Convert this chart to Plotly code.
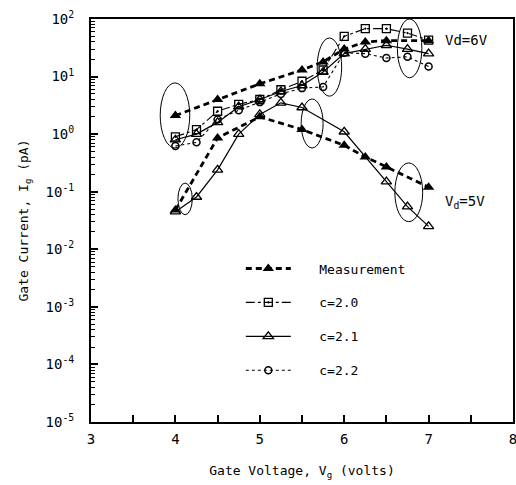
import plotly.graph_objects as go

# ---------------- data ----------------
# Vd = 6 V
meas6_v = [4.0, 4.5, 5.0, 5.5, 5.75, 6.0, 6.25, 6.5, 7.0]
meas6_i = [2.1, 4.0, 7.5, 13, 18, 30, 40, 42, 42]

c20_v = [4.0, 4.25, 4.5, 4.75, 5.0, 5.25, 5.5, 5.75, 6.0, 6.25, 6.5, 6.75, 7.0]
c20_i = [0.9, 1.2, 2.5, 3.3, 4.0, 5.9, 8.3, 13, 50, 68, 68, 57, 43]

c21_6_v = [4.0, 4.25, 4.5, 4.75, 5.0, 5.25, 5.5, 5.75, 6.0, 6.25, 6.5, 6.75, 7.0]
c21_6_i = [0.8, 1.0, 1.6, 3.0, 4.0, 5.5, 7.0, 12, 25, 30, 35, 30, 25]

c22_v = [4.0, 4.25, 4.5, 4.75, 5.0, 5.25, 5.5, 5.75, 6.0, 6.25, 6.5, 6.75, 7.0]
c22_i = [0.62, 0.72, 1.8, 2.6, 3.6, 5.0, 6.3, 6.6, 26, 25, 21, 22, 15]

# Vd = 5 V
meas5_v = [4.0, 4.5, 5.0, 5.5, 6.0, 6.25, 6.5, 7.0]
meas5_i = [0.048, 0.86, 2.0, 1.2, 0.64, 0.40, 0.27, 0.12]

c21_5_v = [4.0, 4.25, 4.5, 4.75, 5.0, 5.25, 5.5, 6.0, 6.5, 6.75, 7.0]
c21_5_i = [0.045, 0.081, 0.24, 1.0, 2.2, 3.5, 2.9, 1.1, 0.15, 0.055, 0.025]

y_tick_vals = [1e-5, 1e-4, 1e-3, 1e-2, 1e-1, 1e0, 1e1, 1e2]
y_tick_text = ["10<sup>-5</sup>", "10<sup>-4</sup>", "10<sup>-3</sup>", "10<sup>-2</sup>",
               "10<sup>-1</sup>", "10<sup>0</sup>", "10<sup>1</sup>", "10<sup>2</sup>"]
x_tick_vals = [3, 4, 5, 6, 7, 8]

FONT = "DejaVu Sans Mono"
K = "black"
PAD = "\u00a0\u00a0\u00a0"

fig = go.Figure()

def add(x, y, name, group, show, marker, line):
    fig.add_trace(go.Scatter(x=x, y=y, mode="lines+markers", name=PAD + name,
                             legendgroup=group, showlegend=show,
                             marker=marker, line=line))

meas_m = dict(symbol="triangle-up", size=10, color=K)
meas_l = dict(color=K, width=2.8, dash="6px,4px")
c20_m = dict(symbol="square-open-dot", size=8, color=K, line=dict(width=1.3))
c20_l = dict(color=K, width=1.1, dash="dashdot")
c21_m = dict(symbol="triangle-up-open", size=9, color=K, line=dict(width=1.3))
c21_l = dict(color=K, width=1.2)
c22_m = dict(symbol="circle-open", size=7, color=K, line=dict(width=1.5))
c22_l = dict(color=K, width=1.1, dash="dot")

add(meas6_v, meas6_i, "Measurement", "m", True, meas_m, meas_l)
add(c20_v, c20_i, "c=2.0", "a", True, c20_m, c20_l)
add(c21_6_v, c21_6_i, "c=2.1", "b", True, c21_m, c21_l)
add(c22_v, c22_i, "c=2.2", "c", True, c22_m, c22_l)
add(meas5_v, meas5_i, "Measurement", "m", False, meas_m, meas_l)
add(c21_5_v, c21_5_i, "c=2.1", "b", False, c21_m, c21_l)

# ellipses (x in volts, y as exponents of 10)
ellipses = [
    (3.82, 4.17, -0.24, 0.89),
    (4.03, 4.20, -1.40, -0.85),
    (5.68, 5.97, 0.66, 1.67),
    (5.49, 5.75, -0.24, 0.61),
    (6.63, 6.92, 0.98, 2.0),
    (6.60, 6.93, -1.52, -0.50),
]
for x0, x1, e0, e1 in ellipses:
    fig.add_shape(type="circle", xref="x", yref="y", x0=x0, x1=x1,
                  y0=10 ** e0, y1=10 ** e1, line=dict(color=K, width=1))

fig.add_annotation(x=7.17, y=1.64, xref="x", yref="y", text="Vd=6V", showarrow=False,
                   xanchor="left", font=dict(family=FONT, size=14, color=K))
fig.add_annotation(x=7.17, y=-1.18, xref="x", yref="y", text="V<sub>d</sub>=5V", showarrow=False,
                   xanchor="left", font=dict(family=FONT, size=14, color=K))

fig.update_xaxes(range=[3, 8], tickvals=x_tick_vals, ticks="inside", ticklen=7,
                 tickcolor=K, tickwidth=1.5, showline=True, linecolor=K, linewidth=2,
                 mirror=True, showgrid=False, zeroline=False, automargin=False,
                 ticklabelstandoff=3, ticklabeloverflow="allow",
                 minor=dict(ticks="inside", ticklen=7, dtick=0.5, tickcolor=K, tickwidth=1.5),
                 tickfont=dict(family=FONT, size=14, color=K),
                 title=dict(text="Gate Voltage, V<sub>g</sub> (volts)",
                            font=dict(family=FONT, size=13, color=K), standoff=20))
fig.update_yaxes(type="log", range=[-5, 2], tickvals=y_tick_vals, ticktext=y_tick_text,
                 ticks="inside", ticklen=7, tickcolor=K, tickwidth=1.5,
                 showline=True, linecolor=K, linewidth=2, mirror=True,
                 showgrid=False, zeroline=False, ticklabelstandoff=12, automargin=False,
                 minor=dict(ticks="inside", ticklen=4, tickcolor=K, tickwidth=1, dtick="D1"),
                 tickfont=dict(family=FONT, size=14, color=K),
                 title=dict(text="Gate Current, I<sub>g</sub> (pA)",
                            font=dict(family=FONT, size=13, color=K), standoff=14))

fig.update_layout(
    width=516, height=485,
    margin=dict(l=91, r=3, t=19, b=63),
    paper_bgcolor="white", plot_bgcolor="white",
    font=dict(family=FONT, size=13, color=K),
    legend=dict(x=0.355, y=0.418, xanchor="left", yanchor="top",
                bgcolor="rgba(0,0,0,0)", tracegroupgap=14,
                font=dict(family=FONT, size=13, color=K), itemwidth=45),
)

fig.write_html("out.html", config={"displayModeBar": False},
               post_script="document.body.style.margin='0';")
